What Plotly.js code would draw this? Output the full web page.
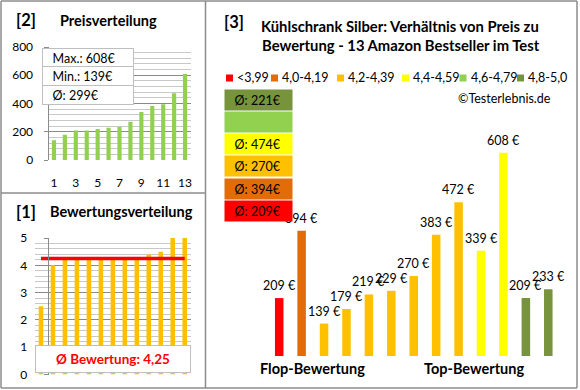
<!DOCTYPE html>
<html>
<head>
<meta charset="utf-8">
<script src="https://cdn.plot.ly/plotly-3.0.1.min.js"></script>
<style>html,body{margin:0;padding:0;background:#fff}#chart{width:580px;height:390px}</style>
</head>
<body>
<div id="chart"></div>
<script>
// ---- data ----
const ranks = [1, 2, 3, 4, 5, 6, 7, 8, 9, 10, 11, 12, 13];
const prices = [209, 394, 139, 179, 219, 229, 270, 383, 472, 339, 608, 209, 233];
const ratings = [2.5, 4.0, 4.2, 4.2, 4.2, 4.2, 4.2, 4.2, 4.2, 4.4, 4.5, 5.0, 5.0];
const avgRating = 4.25;
const binLabels = ['<3,99', '4,0-4,19', '4,2-4,39', '4,4-4,59', '4,6-4,79', '4,8-5,0'];
const binLower = [0, 4.0, 4.2, 4.4, 4.6, 4.8];
const binColors = ['#FF0000', '#E36C09', '#FFC000', '#FFFF00', '#92D050', '#77933C'];
const priceTicks = [0, 200, 400, 600, 800];
const ratingTicks = [0, 1, 2, 3, 4, 5];
const flopLabel = 'Flop-Bewertung';
const topLabel = 'Top-Bewertung';

// ---- derived ----
const W = 580, H = 390;
const px = v => v / W;
const py = v => 1 - v / H;
const binOf = r => { let b = 0; binLower.forEach((l, i) => { if (r >= l - 1e-9) b = i; }); return b; };
const barColors = ratings.map(r => binColors[binOf(r)]);
const sortedPrices = prices.slice().sort((a, b) => a - b);
const maxP = Math.max(...prices), minP = Math.min(...prices);
const avgP = Math.round(prices.reduce((a, b) => a + b, 0) / prices.length);
const binAvg = binLabels.map((_, i) => {
  const v = prices.filter((p, k) => binOf(ratings[k]) === i);
  return v.length ? Math.round(v.reduce((a, b) => a + b, 0) / v.length) : null;
});

const FONT = 'Lato, "Open Sans", sans-serif';
const GRID = '#8a8a8a', MINOR = '#c8c8c8', BORDER = '#8c8c8c';

const traces = [
  { type: 'bar', x: ranks, y: sortedPrices, xaxis: 'x', yaxis: 'y', marker: { color: '#92D050' }, hoverinfo: 'none' },
  { type: 'bar', x: ranks, y: ratings, xaxis: 'x2', yaxis: 'y2', marker: { color: '#FFC000' }, hoverinfo: 'none' },
  { type: 'scatter', mode: 'lines', x: [ranks[0], ranks[ranks.length - 1]], y: [avgRating, avgRating], xaxis: 'x2', yaxis: 'y2', line: { color: '#FF0000', width: 3.5 }, hoverinfo: 'none' },
  { type: 'bar', x: ranks, y: prices, xaxis: 'x3', yaxis: 'y3', marker: { color: barColors }, hoverinfo: 'none' }
];

const tickFont = { family: FONT, size: 12, color: '#000' };
const layout = {
  width: W, height: H, margin: { l: 0, r: 0, t: 0, b: 0 },
  paper_bgcolor: '#fff', plot_bgcolor: 'rgba(0,0,0,0)', showlegend: false, bargap: 0.62,
  font: { family: FONT, color: '#000' },
  xaxis: { domain: [px(48.5), px(190.5)], range: [0.5, 13.5], tick0: 1, dtick: 2, showgrid: false, zeroline: false,
           showline: false, ticks: '', ticklabelstandoff: 14, tickfont: tickFont, fixedrange: true },
  yaxis: { domain: [py(160), py(47)], range: [0, 800], tickvals: priceTicks, showgrid: true, gridcolor: GRID, gridwidth: 1,
           minor: { dtick: 40, showgrid: true, gridcolor: MINOR, gridwidth: 1 },
           zeroline: false, showline: true, linecolor: GRID, ticks: 'outside', ticklen: 4, tickcolor: GRID,
           ticklabelstandoff: 8, tickfont: tickFont, fixedrange: true },
  xaxis2: { domain: [px(35), px(190.7)], range: [0.5, 13.5], showticklabels: false, showgrid: false, zeroline: false,
            showline: false, ticks: '', fixedrange: true },
  yaxis2: { domain: [py(374.5), py(238)], range: [0, 5], tickvals: ratingTicks, showgrid: true, gridcolor: GRID, gridwidth: 1,
            minor: { dtick: 0.2, showgrid: true, gridcolor: MINOR, gridwidth: 1 },
            zeroline: false, showline: true, linecolor: GRID, ticks: 'outside', ticklen: 4, tickcolor: GRID,
            ticklabelstandoff: 14, tickfont: tickFont, fixedrange: true },
  xaxis3: { domain: [px(268), px(559.5)], range: [0.5, 13.5], visible: false, fixedrange: true },
  yaxis3: { domain: [py(356), py(100)], range: [50, 753], visible: false, fixedrange: true },
  shapes: [], annotations: []
};

// panel borders
const line = (x0, y0, x1, y1) => ({ type: 'line', xref: 'paper', yref: 'paper', x0: px(x0), y0: py(y0), x1: px(x1), y1: py(y1), line: { color: BORDER, width: 1.5 }, layer: 'above' });
layout.shapes.push(line(1, 1, 577, 1), line(1, 388, 577, 388), line(1, 1, 1, 388), line(577, 1, 577, 388),
                   line(205.5, 1, 205.5, 388), line(1, 193, 205.5, 193));

const ann = a => layout.annotations.push(Object.assign({ xref: 'paper', yref: 'paper', showarrow: false }, a));

// left-top panel
ann({ x: px(14), y: py(20), xanchor: 'left', yanchor: 'middle', text: '<b>[2]</b>', font: { family: FONT, size: 16.5 } });
ann({ x: px(58), y: py(20), xanchor: 'left', yanchor: 'middle', text: '<b>Preisverteilung</b>', font: { family: FONT, size: 14.5 } });
const infoRows = ['Max.: ' + maxP + '€', 'Min.: ' + minP + '€', 'Ø: ' + avgP + '€'];
const infoTop = 48, infoH = 18.3;
infoRows.forEach((t, i) => {
  ann({ x: px(42), y: py(infoTop + infoH * i), xanchor: 'left', yanchor: 'top', width: 90, height: infoH, align: 'left',
        text: '\u00a0\u00a0\u00a0' + t, bgcolor: '#fff', bordercolor: '#bfbfbf', borderwidth: 1, borderpad: 0,
        font: { family: FONT, size: 12.5 } });
});

// left-bottom panel
ann({ x: px(14), y: py(212), xanchor: 'left', yanchor: 'middle', text: '<b>[1]</b>', font: { family: FONT, size: 16.5 } });
ann({ x: px(48), y: py(212), xanchor: 'left', yanchor: 'middle', text: '<b>Bewertungsverteilung</b>', font: { family: FONT, size: 14.5 } });
ann({ x: px(35), y: py(345), xanchor: 'left', yanchor: 'top', width: 154, height: 26, align: 'center',
      text: '<b>Ø Bewertung: ' + avgRating.toFixed(2).replace('.', ',') + '</b>', bgcolor: '#fff', bordercolor: '#bfbfbf',
      borderwidth: 1, borderpad: 0, font: { family: FONT, size: 13.5, color: '#FF0000' } });

// right panel titles
ann({ x: px(222), y: py(22), xanchor: 'left', yanchor: 'middle', text: '<b>[3]</b>', font: { family: FONT, size: 16.5 } });
ann({ x: px(400), y: py(26), xanchor: 'center', yanchor: 'middle', text: '<b>Kühlschrank Silber: Verhältnis von Preis zu</b>', font: { family: FONT, size: 14.8 } });
ann({ x: px(401), y: py(45), xanchor: 'center', yanchor: 'middle', text: '<b>Bewertung - 13 Amazon Bestseller im Test</b>', font: { family: FONT, size: 14.8 } });

// legend row
const legX = [226, 271, 337, 402, 459.5, 517];
binLabels.forEach((t, i) => {
  layout.shapes.push({ type: 'rect', xref: 'paper', yref: 'paper', x0: px(legX[i]), x1: px(legX[i] + 7), y0: py(81.5), y1: py(74.5),
                       fillcolor: binColors[i], line: { width: 0 } });
  ann({ x: px(legX[i] + 9), y: py(78), xanchor: 'left', yanchor: 'middle', text: t, font: { family: FONT, size: 12.5 } });
});
ann({ x: px(553), y: py(98), xanchor: 'right', yanchor: 'middle', text: '©Testerlebnis.de', font: { family: FONT, size: 12.5 } });

// value labels
ranks.forEach((r, i) => {
  layout.annotations.push({ xref: 'x3', yref: 'y3', x: r, y: prices[i], xanchor: 'center', yanchor: 'bottom', yshift: 3,
                            showarrow: false, text: prices[i] + ' €', font: { family: FONT, size: 12.5 } });
});

// average boxes (top: best bin)
for (let j = 0; j < binLabels.length; j++) {
  const i = binLabels.length - 1 - j;
  const cy = 99.5 + 22.3 * j;
  ann({ x: px(224), y: py(cy), xanchor: 'left', yanchor: 'middle', width: 67, height: 20, align: 'left', borderpad: 0,
        bgcolor: binColors[i], text: binAvg[i] === null ? '\u00a0' : '\u00a0\u00a0\u00a0Ø: ' + binAvg[i] + '€',
        font: { family: FONT, size: 12.5 } });
}

ann({ x: px(312), y: py(368), xanchor: 'center', yanchor: 'middle', text: '<b>' + flopLabel + '</b>', font: { family: FONT, size: 14.5 } });
ann({ x: px(474), y: py(368), xanchor: 'center', yanchor: 'middle', text: '<b>' + topLabel + '</b>', font: { family: FONT, size: 14.5 } });

Plotly.newPlot('chart', traces, layout, { staticPlot: true, displayModeBar: false });
</script>
</body>
</html>
